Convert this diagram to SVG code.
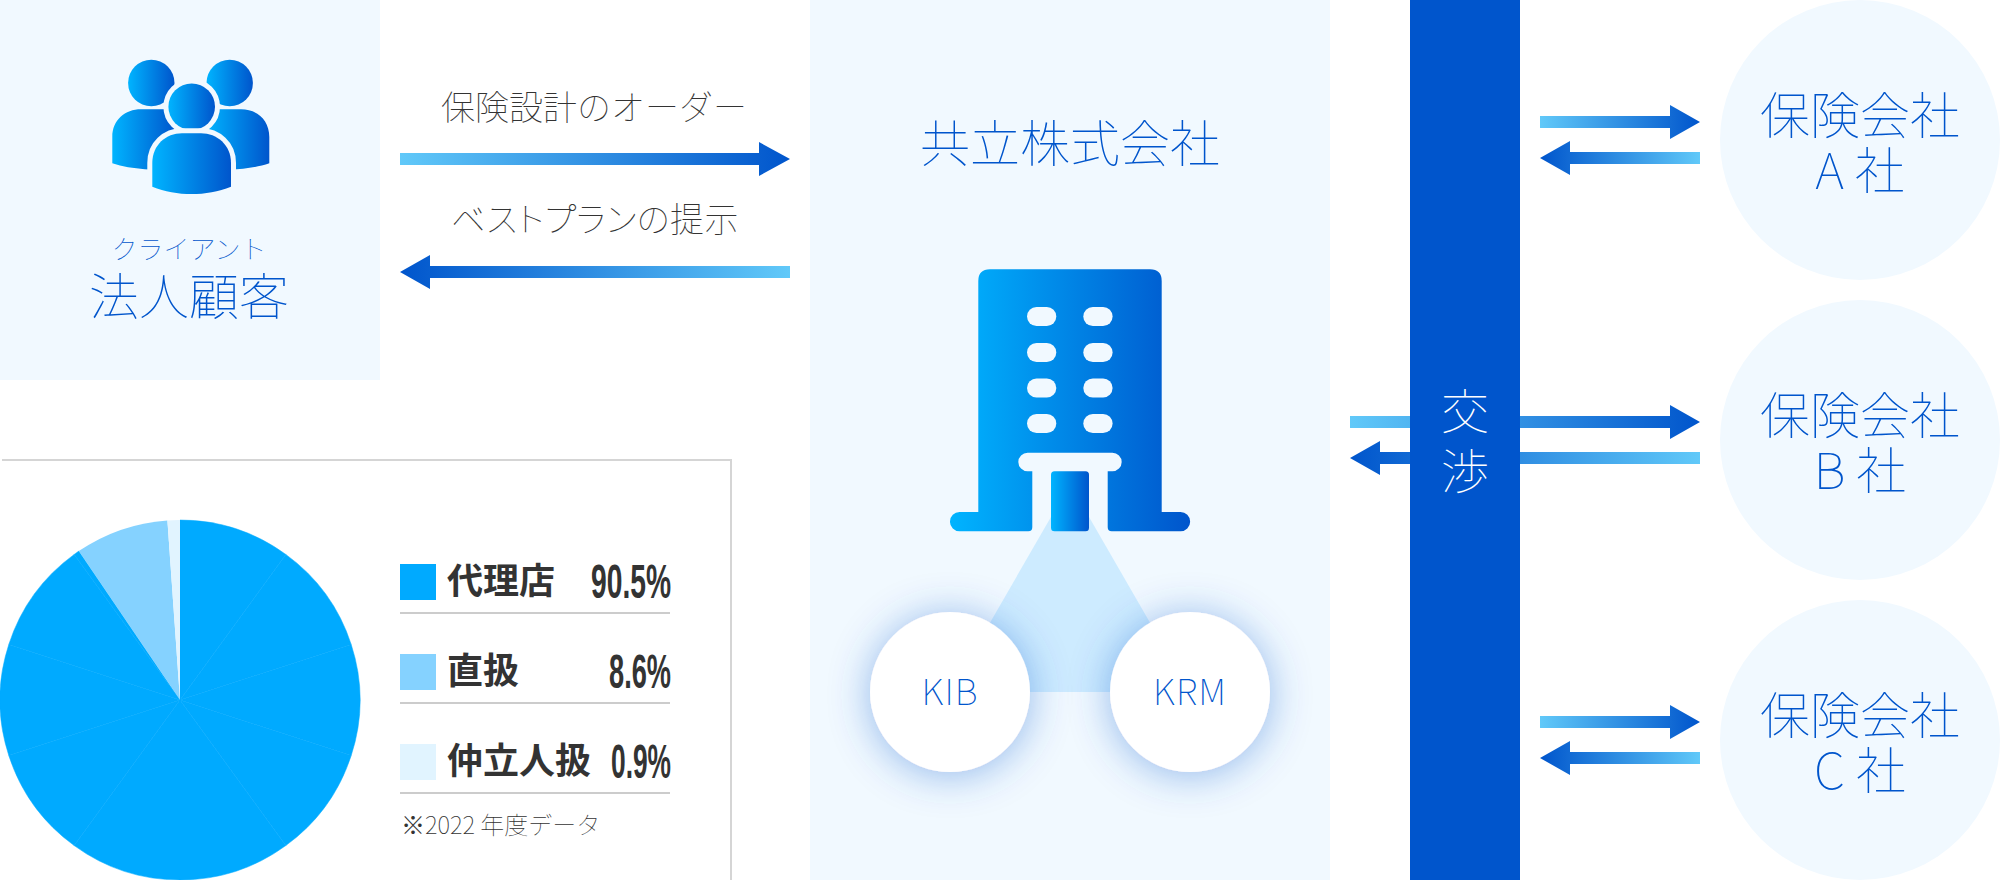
<svg xmlns="http://www.w3.org/2000/svg" width="2000" height="880" viewBox="0 0 2000 880">
<style>
text{font-family:"Noto Sans CJK JP","Noto Sans",sans-serif;font-weight:100}
.bg{fill:#f1f9ff}
.blue{fill:#0055cc}
.c{text-anchor:middle}
.dark{fill:#333}
.wedge{fill:#00aaff;stroke:#00aaff;stroke-width:.5}
.rule{stroke:#ccc;stroke-width:2;fill:none}
.leg{font-size:36px;font-weight:700;fill:#333}
.num{font-family:"Liberation Sans",sans-serif;font-size:48px;font-weight:700;fill:#333}
.win{fill:#f1f9ff}
.ins{font-size:50px;fill:#0055cc;text-anchor:middle}
.ring{stroke:#f1f9ff;stroke-width:10;paint-order:stroke}
</style>
<defs>
<linearGradient id="aR"><stop offset="0" stop-color="#61c9f9"/><stop offset="1" stop-color="#0055cc"/></linearGradient>
<linearGradient id="aL"><stop offset="0" stop-color="#0055cc"/><stop offset="1" stop-color="#61c9f9"/></linearGradient>
<linearGradient id="ic"><stop offset="0" stop-color="#00b4ff"/><stop offset="1" stop-color="#0055cc"/></linearGradient>
<filter id="glow" x="-60%" y="-60%" width="220%" height="220%"><feDropShadow dx="0" dy="3" stdDeviation="20" flood-color="#0055cc" flood-opacity="0.4"/></filter>
</defs>

<g id="client">
<rect class="bg" x="0" y="0" width="380" height="380"/>
<g id="people-icon" fill="url(#ic)">
<circle cx="151.3" cy="83" r="23.2"/>
<circle cx="229.7" cy="83" r="23.2"/>
<path d="M112.3 163.3V137C112.3 120 125 109.3 141 109.3H176V171C158 170 132 170 112.3 163.3Z"/>
<path d="M269.3 163.3V137C269.3 120 257 109.3 241 109.3H206V171C224 170 250 170 269.3 163.3Z"/>
<circle class="ring" cx="191.7" cy="106.7" r="23.3"/>
<path class="ring" d="M152.3 186.7V163C152.300 145 166 133.300 182 133.300H201C217 133.300 231 145 231 163V186.700C206 196.500 177 196.500 152.300 186.700Z"/>
</g>
<text class="c" x="189" y="258.500" font-size="26" fill="#0055cc">クライアント</text>
<text class="c" x="189" y="315" font-size="50" fill="#0055cc">法人顧客</text>
</g>

<g id="pie-legend">
<path d="M2 460H731V880" fill="none" stroke="#d5d5d5" stroke-width="2"/>
<g id="pie">
<path class="wedge" d="M180 700L180 520A180 180 0 0 1 285.800 554.400Z"/>
<path class="wedge" d="M180 700L285.800 554.400A180 180 0 0 1 351.200 644.400Z"/>
<path class="wedge" d="M180 700L351.200 644.400A180 180 0 0 1 351.200 755.600Z"/>
<path class="wedge" d="M180 700L351.200 755.600A180 180 0 0 1 285.800 845.600Z"/>
<path class="wedge" d="M180 700L285.800 845.600A180 180 0 0 1 180 880Z"/>
<path class="wedge" d="M180 700L180 880A180 180 0 0 1 74.200 845.600Z"/>
<path class="wedge" d="M180 700L74.200 845.600A180 180 0 0 1 8.800 755.600Z"/>
<path class="wedge" d="M180 700L8.800 755.600A180 180 0 0 1 8.800 644.400Z"/>
<path class="wedge" d="M180 700L8.800 644.400A180 180 0 0 1 74.200 554.400Z"/>
<path class="wedge" d="M180 700L74.200 554.400A180 180 0 0 1 78.800 551.100Z"/>
<path d="M180 700L78.800 551.100A180 180 0 0 1 167.400 520.400Z" fill="#85d2ff"/>
<path d="M180 700L167.400 520.400A180 180 0 0 1 180 520Z" fill="#e1f4ff"/>
</g>
<rect x="400" y="564" width="36" height="36" fill="#00aaff"/>
<text class="leg" x="447" y="594">代理店</text>
<text class="num" x="591" y="597.500" textLength="80" lengthAdjust="spacingAndGlyphs">90.5%</text>
<path class="rule" d="M400 613H670"/>
<rect x="400" y="654" width="36" height="36" fill="#85d2ff"/>
<text class="leg" x="447" y="684">直扱</text>
<text class="num" x="609" y="687.500" textLength="62" lengthAdjust="spacingAndGlyphs">8.6%</text>
<path class="rule" d="M400 703H670"/>
<rect x="400" y="744" width="36" height="36" fill="#e1f4ff"/>
<text class="leg" x="447" y="774">仲立人扱</text>
<text class="num" x="611" y="777.500" textLength="60" lengthAdjust="spacingAndGlyphs">0.9%</text>
<path class="rule" d="M400 793H670"/>
<text class="dark" x="401" y="834" font-size="24">※2022 年度データ</text>
</g>

<g id="company">
<rect class="bg" x="810" y="0" width="520" height="880"/>
<text class="c" x="1070" y="162" font-size="50" fill="#0055cc">共立株式会社</text>
<polygon points="950,692 1190,692 1070,484" fill="#cdebff"/>
<g id="building">
<path fill="url(#ic)" d="M990 269.300H1150Q1161.700 269.300 1161.700 281V512H1180.500A9.650 9.650 0 0 1 1180.500 531.300H1111.700Q1107.700 531.300 1107.700 527.300V471.300H1112.400A9.300 9.300 0 0 0 1112.400 452.700H1027.600A9.300 9.300 0 0 0 1027.600 471.300H1032.300V527.300Q1032.300 531.300 1028.300 531.300H959.600A9.650 9.650 0 0 1 959.600 512H978.300V281Q978.300 269.300 990 269.300Z"/>
<rect class="win" x="1027" y="307" width="29.300" height="19" rx="9.500"/>
<rect class="win" x="1083.300" y="307" width="29.300" height="19" rx="9.500"/>
<rect class="win" x="1027" y="343" width="29.300" height="19" rx="9.500"/>
<rect class="win" x="1083.300" y="343" width="29.300" height="19" rx="9.500"/>
<rect class="win" x="1027" y="378.500" width="29.300" height="19" rx="9.500"/>
<rect class="win" x="1083.300" y="378.500" width="29.300" height="19" rx="9.500"/>
<rect class="win" x="1027" y="414" width="29.300" height="19" rx="9.500"/>
<rect class="win" x="1083.300" y="414" width="29.300" height="19" rx="9.500"/>
<rect x="1051" y="471.300" width="38" height="60" rx="3.500" fill="url(#ic)"/>
</g>
</g>

<g id="kib">
<circle cx="950" cy="692" r="80" fill="#fff" filter="url(#glow)"/>
<text class="c" x="950" y="705" font-size="36" fill="#0055cc" letter-spacing="1">KIB</text>
</g>
<g id="krm">
<circle cx="1190" cy="692" r="80" fill="#fff" filter="url(#glow)"/>
<text class="c" x="1190" y="705" font-size="36" fill="#0055cc" letter-spacing="1">KRM</text>
</g>

<g id="connectors">
<polygon fill="url(#aR)" points="400,153 759,153 759,142 790,159 759,176 759,165 400,165"/>
<polygon fill="url(#aL)" points="790,266 430,266 430,255 400,272 430,289 430,278 790,278"/>
<polygon fill="url(#aR)" points="1540,116 1670,116 1670,105 1700,122 1670,139 1670,128 1540,128"/>
<polygon fill="url(#aL)" points="1700,152 1570,152 1570,141 1540,158 1570,175 1570,164 1700,164"/>
<polygon fill="url(#aR)" points="1350,416 1670,416 1670,405 1700,422 1670,439 1670,428 1350,428"/>
<polygon fill="url(#aL)" points="1700,452 1380,452 1380,441 1350,458 1380,475 1380,464 1700,464"/>
<polygon fill="url(#aR)" points="1540,716 1670,716 1670,705 1700,722 1670,739 1670,728 1540,728"/>
<polygon fill="url(#aL)" points="1700,752 1570,752 1570,741 1540,758 1570,775 1570,764 1700,764"/>
</g>
<g id="order-label"><text class="c dark" x="594" y="120" font-size="34">保険設計のオーダー</text></g>
<g id="plan-label"><text class="c dark" x="595" y="232" font-size="34" letter-spacing=".5" style="font-feature-settings:'palt'">ベストプランの提示</text></g>

<g id="negotiation">
<rect class="blue" x="1410" y="0" width="110" height="880"/>
<text class="c" x="1465" y="429" font-size="48" fill="#fff">交</text>
<text class="c" x="1465" y="489" font-size="48" fill="#fff">渉</text>
</g>

<g id="insurer-a">
<circle class="bg" cx="1860" cy="140" r="140"/>
<text class="ins" x="1860" y="134">保険会社</text>
<text class="ins" x="1860" y="189">A 社</text>
</g>
<g id="insurer-b">
<circle class="bg" cx="1860" cy="440" r="140"/>
<text class="ins" x="1860" y="434">保険会社</text>
<text class="ins" x="1860" y="489">B 社</text>
</g>
<g id="insurer-c">
<circle class="bg" cx="1860" cy="740" r="140"/>
<text class="ins" x="1860" y="734">保険会社</text>
<text class="ins" x="1860" y="789">C 社</text>
</g>
</svg>
